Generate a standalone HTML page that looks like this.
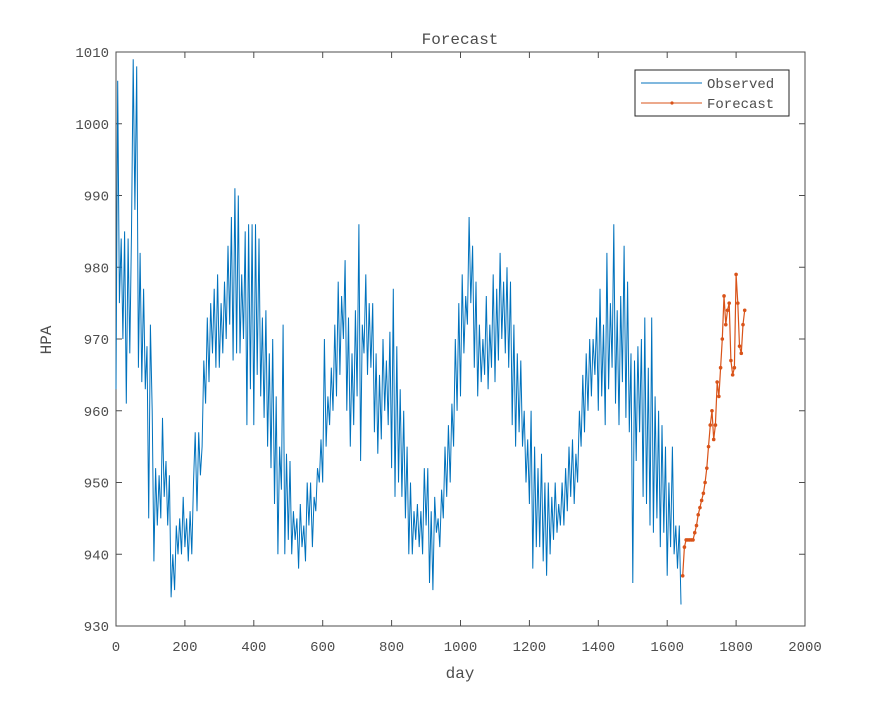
<!DOCTYPE html>
<html><head><meta charset="utf-8"><style>
body{margin:0;background:#fff;}
svg{display:block;font-family:"Liberation Mono","Noto Sans CJK SC",monospace;}
</style></head><body>
<svg id="chart" width="891" height="703">
<rect width="891" height="703" fill="#fff"/>
<rect x="116" y="52" width="689" height="574" fill="#fff" stroke="#4d4d4d" stroke-width="1"/>
<text x="460" y="44" text-anchor="middle" font-size="16" fill="#4d4d4d">Forecast</text>
<text x="460" y="678" text-anchor="middle" font-size="16" fill="#4d4d4d">day</text>
<text transform="translate(51,340) rotate(-90)" text-anchor="middle" font-size="16" fill="#4d4d4d">HPA</text>
<g id="axes"></g>
<g id="series"></g>
<g>
<rect x="635" y="70" width="154" height="46" fill="#fff" stroke="#262626" stroke-width="1"/>
<line x1="641" y1="83" x2="702" y2="83" stroke="#0072BD" stroke-width="1"/>
<text x="707" y="88" font-size="14" fill="#4d4d4d">Observed</text>
<line x1="641" y1="103" x2="702" y2="103" stroke="#D95319" stroke-width="1"/>
<circle cx="672" cy="103" r="1.6" fill="#D95319"/>
<text x="707" y="108" font-size="14" fill="#4d4d4d">Forecast</text>
</g>
</svg>
<script>
const xTicks=[0,200,400,600,800,1000,1200,1400,1600,1800,2000];
const yTicks=[930,940,950,960,970,980,990,1000,1010];
const obsStart=0, obsStep=5;
const observed=[963,1006,975,984,970,985,961,984,968,985,
1009,988,1008,966,982,964,977,963,969,945,
972,960,939,952,944,951,945,959,948,953,
944,951,934,940,935,944,940,945,940,948,
941,945,939,946,940,950,957,946,957,951,
955,967,961,973,964,975,968,977,966,979,
966,975,968,978,970,983,972,987,967,991,
968,990,968,979,970,985,958,986,963,986,
958,986,965,984,962,973,959,974,955,968,
952,970,947,962,940,955,949,972,940,954,
942,953,940,946,942,945,938,947,941,944,
939,950,944,950,941,948,946,952,950,956,
950,970,955,962,958,966,960,972,962,978,
965,976,970,981,960,973,955,968,958,974,
962,986,953,972,968,979,965,975,966,975,
957,968,954,965,956,970,960,967,958,971,
952,977,948,969,950,963,948,960,945,955,
940,950,940,946,942,947,941,946,940,952,
944,952,936,946,935,948,943,945,941,949,
945,955,948,958,950,961,955,970,960,975,
962,979,968,976,972,987,975,983,966,978,
962,972,964,970,965,976,963,972,966,979,
964,977,967,982,970,978,968,980,966,978,
958,972,955,968,957,967,955,960,950,956,
947,960,938,955,941,952,941,954,939,950,
937,950,940,948,942,950,943,947,944,950,
944,952,946,955,948,956,947,954,950,960,
955,965,957,968,960,970,962,970,965,973,
960,977,962,972,958,982,963,975,966,986,
961,974,958,976,964,983,959,978,957,968,
936,967,953,969,957,970,948,973,947,966,
944,973,943,962,945,960,941,958,943,955,
937,950,941,955,940,944,938,944,933];
const fcStart=1645, fcStep=5;
const forecast=[937,941,942,942,942,942,942,943,944,945.5,946.5,947.5,948.5,950,952,955,958,960,956,958,964,962,966,970,976,972,974,975,967,965,966,979,975,969,968,972,974];

const NS="http://www.w3.org/2000/svg";
const X0=116,X1=805,Y0=626,Y1=52;
function xs(d){return X0+(d-0)/(2000-0)*(X1-X0);}
function ys(v){return Y0-(v-930)/(1010-930)*(Y0-Y1);}
function mk(tag,attrs,parent){const e=document.createElementNS(NS,tag);for(const k in attrs)e.setAttribute(k,attrs[k]);parent.appendChild(e);return e;}
const axes=document.getElementById('axes');
xTicks.forEach(t=>{
  const x=xs(t);
  const l1=mk('line',{x1:x,y1:Y0,x2:x,y2:Y0-6,stroke:'#4d4d4d'},axes);
  
  
  const l2=mk('line',{x1:x,y1:Y1,x2:x,y2:Y1+6,stroke:'#4d4d4d'},axes);
  
  
  const tx=mk('text',{x:x,y:651,'text-anchor':'middle','font-size':14,fill:'#4d4d4d'},axes);
  tx.textContent=t;
  
  
});
yTicks.forEach(t=>{
  const y=ys(t);
  const l1=mk('line',{x1:X0,y1:y,x2:X0+6,y2:y,stroke:'#4d4d4d'},axes);
  
  
  const l2=mk('line',{x1:X1,y1:y,x2:X1-6,y2:y,stroke:'#4d4d4d'},axes);
  
  
  const tx=mk('text',{x:109,y:y+5,'text-anchor':'end','font-size':14,fill:'#4d4d4d'},axes);
  tx.textContent=t;
  
  
});
const series=document.getElementById('series');
const op=observed.map((v,i)=>xs(obsStart+i*obsStep).toFixed(1)+','+ys(v).toFixed(1)).join(' ');
const obsLine=mk('polyline',{points:op,fill:'none',stroke:'#0072BD','stroke-width':1},series);


const fp=forecast.map((v,i)=>xs(fcStart+i*fcStep).toFixed(1)+','+ys(v).toFixed(1)).join(' ');
const fcLine=mk('polyline',{points:fp,fill:'none',stroke:'#D95319','stroke-width':1.2},series);


forecast.forEach((v,i)=>{
  const c=mk('circle',{cx:xs(fcStart+i*fcStep),cy:ys(v),r:1.8,fill:'#D95319'},series);
  
  
});
</script>
</body></html>
